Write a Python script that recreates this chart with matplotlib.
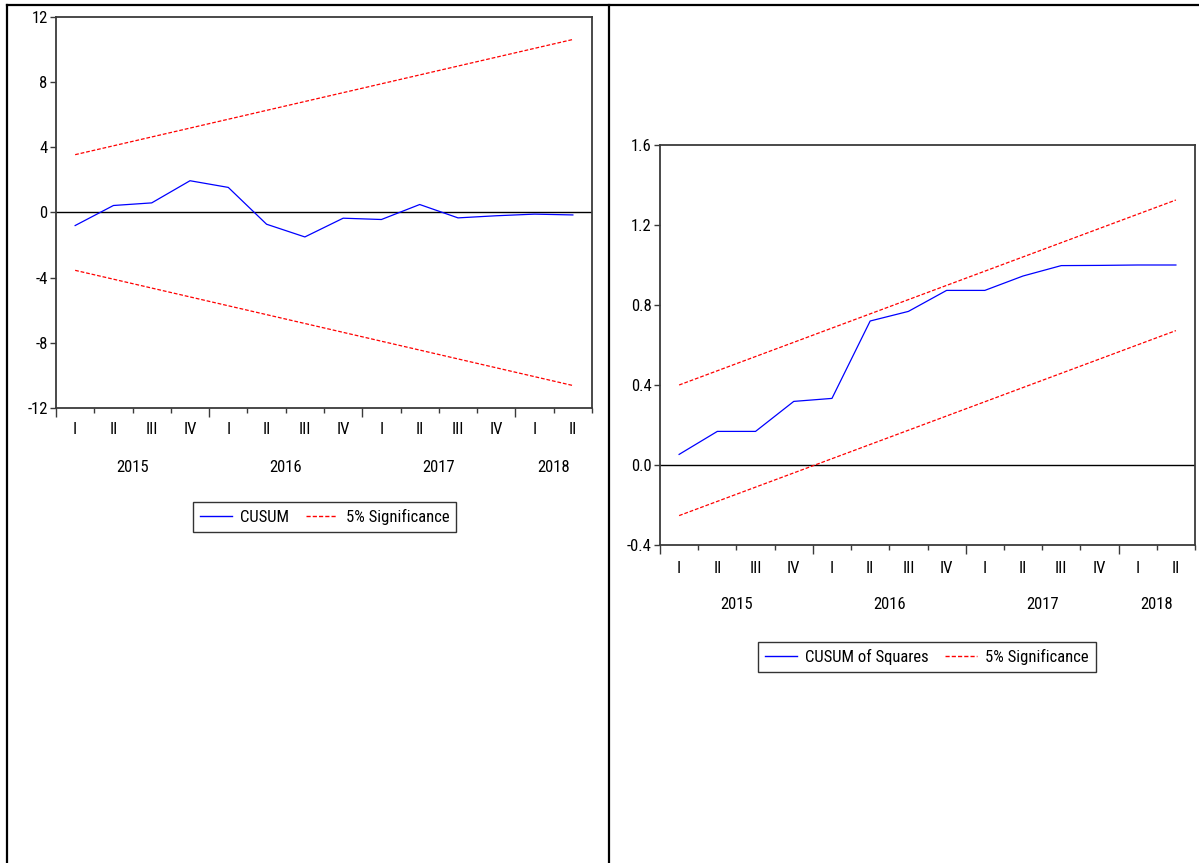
import matplotlib
matplotlib.use("Agg")
import matplotlib.pyplot as plt
from matplotlib.lines import Line2D

plt.rcParams['font.family'] = ['Roboto Condensed', 'Liberation Sans', 'DejaVu Sans']
plt.rcParams['font.size'] = 12

quarters = ["I", "II", "III", "IV", "I", "II", "III", "IV", "I", "II", "III", "IV", "I", "II"]
years = ["2015", "2016", "2017", "2018"]
year_mid = [1.5, 5.5, 9.5, 12.5]

cusum = [-0.80, 0.43, 0.59, 1.95, 1.54, -0.72, -1.50, -0.35, -0.43, 0.49, -0.33, -0.20, -0.10, -0.15]
cusum_upper = [3.55, 10.62]
cusum_lower = [-3.55, -10.62]

cusumsq = [0.053, 0.168, 0.168, 0.318, 0.333, 0.720, 0.768, 0.873, 0.873, 0.945, 0.997, 0.998, 1.0, 1.0]
sq_upper = [0.40, 1.325]
sq_lower = [-0.253, 0.672]

W, H = 1199, 863
fig = plt.figure(figsize=(W / 100, H / 100), dpi=100)


def px_axes(l, t, r, b):
    return fig.add_axes([l / W, 1 - b / H, (r - l) / W, (b - t) / H])


def style(ax, yticks, ylabels, label_off):
    n = len(quarters)
    ax.set_xlim(-0.5, n - 0.5)
    ax.set_ylim(yticks[0], yticks[-1])
    ax.set_yticks(yticks)
    ax.set_yticklabels(ylabels)
    ax.axhline(0, color='black', lw=1.0, zorder=1)
    for s in ax.spines.values():
        s.set_color('#3a3a3a')
        s.set_linewidth(1.3)
    ax.set_xticks([-0.5, 3.5, 7.5, 11.5])
    ax.set_xticklabels([])
    ax.set_xticks([i + 0.5 for i in range(n) if (i + 0.5) not in (3.5, 7.5, 11.5)], minor=True)
    ax.tick_params(axis='x', which='major', length=6.5, width=1.0, color='#3a3a3a')
    ax.tick_params(axis='x', which='minor', length=3.6, width=1.0, color='#3a3a3a')
    ax.tick_params(axis='y', length=4, width=1.0, color='#3a3a3a', pad=2)
    tr = ax.get_xaxis_transform()
    for i, q in enumerate(quarters):
        ax.annotate(q, xy=(i, 0), xycoords=tr, xytext=(0, -label_off), textcoords='offset pixels',
                    ha='center', va='center', annotation_clip=False)
    for x, yr in zip(year_mid, years):
        ax.annotate(yr, xy=(x, 0), xycoords=tr, xytext=(0, -59), textcoords='offset pixels',
                    ha='center', va='center', annotation_clip=False)


def legend(ax, name, cx, cy):
    handles = [Line2D([], [], color='#0000ff', lw=1.0),
               Line2D([], [], color='#ff0000', lw=1.0, ls=(0, (3, 1.5)))]
    leg = ax.legend(handles, [name, "5% Significance"], loc='center',
                    bbox_to_anchor=(cx / W, 1 - cy / H), bbox_transform=fig.transFigure,
                    ncol=2, frameon=True, fancybox=False, shadow=False,
                    handlelength=1.9, handletextpad=0.5, columnspacing=1.0,
                    borderpad=0.4, fontsize=12)
    leg.get_frame().set_edgecolor('black')
    leg.get_frame().set_linewidth(1.0)


idx = list(range(len(quarters)))
ends = [idx[0], idx[-1]]

# CUSUM
ax1 = px_axes(56, 17, 592, 408)
ax1.plot(idx, cusum, color='#0000ff', lw=0.9, zorder=3)
ax1.plot(ends, cusum_upper, color='#ff0000', lw=0.9, ls=(0, (3, 1.5)))
ax1.plot(ends, cusum_lower, color='#ff0000', lw=0.9, ls=(0, (3, 1.5)))
style(ax1, [-12, -8, -4, 0, 4, 8, 12], ["-12", "-8", "-4", "0", "4", "8", "12"], 21)
legend(ax1, "CUSUM", 324.5, 517)

# CUSUM of squares
ax2 = px_axes(660, 145, 1195, 545)
ax2.plot(idx, cusumsq, color='#0000ff', lw=0.9, zorder=3)
ax2.plot(ends, sq_upper, color='#ff0000', lw=0.9, ls=(0, (3, 1.5)))
ax2.plot(ends, sq_lower, color='#ff0000', lw=0.9, ls=(0, (3, 1.5)))
style(ax2, [-0.4, 0.0, 0.4, 0.8, 1.2, 1.6], ["-0.4", "0.0", "0.4", "0.8", "1.2", "1.6"], 23)
legend(ax2, "CUSUM of Squares", 927, 657)

# outer table border
for xs, ys in [((7, W), (5, 5)), ((7, 7), (5, H)), ((609, 609), (5, H))]:
    fig.add_artist(Line2D([x / W for x in xs], [1 - y / H for y in ys],
                          transform=fig.transFigure, color='black', lw=1.6))

fig.savefig("out.png", dpi=100)
